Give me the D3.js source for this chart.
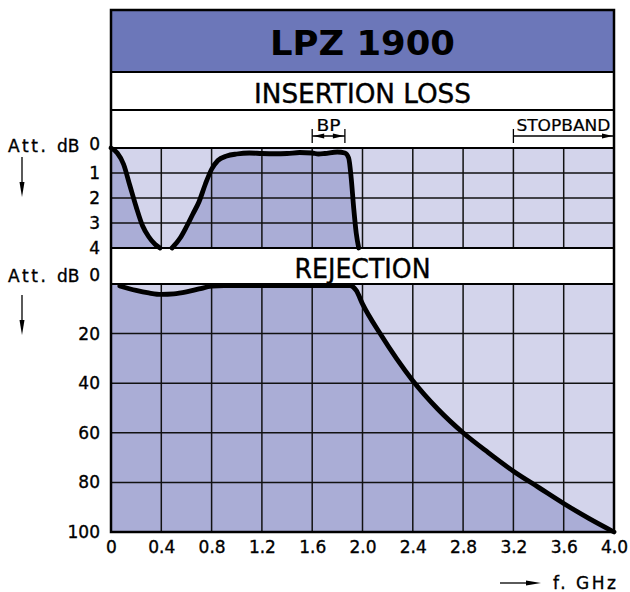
<!DOCTYPE html>
<html><head><meta charset="utf-8">
<script src="https://cdn.jsdelivr.net/npm/d3@7/dist/d3.min.js"></script>
<style>body{margin:0;background:#fff} text{stroke:#000;stroke-width:0.35px}</style>
</head><body><svg id="c" width="630" height="592"></svg>
<script>
// ---- data ----
const titleText = "LPZ 1900";
const panelTitles = ["INSERTION LOSS", "REJECTION"];
const xTicks = [0, 0.4, 0.8, 1.2, 1.6, 2.0, 2.4, 2.8, 3.2, 3.6, 4.0];
const xTickLabels = ["0", "0.4", "0.8", "1.2", "1.6", "2.0", "2.4", "2.8", "3.2", "3.6", "4.0"];
const ilTicks = [0, 1, 2, 3, 4];
const rejTicks = [0, 20, 40, 60, 80, 100];
// insertion loss (dB) — two visible segments (curve leaves the 4 dB window between)
const ilFreqA = [0, 0.05, 0.1, 0.15, 0.2, 0.25, 0.3, 0.35, 0.39];
const ilAttA  = [0, 0.2, 0.65, 1.5, 2.35, 3.1, 3.55, 3.85, 4.0];
const ilFreqB = [0.485, 0.55, 0.6, 0.65, 0.7, 0.75, 0.8, 0.85, 0.92, 1.0, 1.1, 1.2, 1.3, 1.4, 1.5, 1.6, 1.65, 1.7, 1.8, 1.86, 1.89, 1.91, 1.93, 1.95, 1.97];
const ilAttB  = [4.0, 3.6, 3.15, 2.65, 2.15, 1.45, 0.85, 0.5, 0.32, 0.24, 0.2, 0.22, 0.23, 0.22, 0.18, 0.2, 0.24, 0.22, 0.16, 0.2, 0.4, 1.2, 2.4, 3.4, 4.0];
// rejection (dB)
const rejFreq = [0.07, 0.2, 0.3, 0.4, 0.5, 0.6, 0.7, 0.8, 0.9, 1.2, 1.6, 1.9, 1.95, 2.0, 2.14, 2.4, 2.6, 2.8, 3.0, 3.2, 3.4, 3.6, 3.8, 4.0];
const rejAtt  = [0.8, 2.6, 3.6, 4.2, 4.0, 3.2, 2.0, 0.9, 0.6, 0.6, 0.6, 0.6, 2.6, 8.0, 20, 39, 50.5, 60, 68, 75.5, 82, 88.5, 94.5, 100];
const bandpass = [1.6, 1.86];
const stopbandStart = 3.2;

// ---- layout ----
const L = 111, R = 614, TOP = 10, BOT = 532;
const C = {title: "#6c77b9", dark: "#aaadd6", light: "#d3d4eb", ink: "#000"};
const svg = d3.select("#c");
const x = d3.scaleLinear([0, 4], [L, R]);
const yIL = d3.scaleLinear([0, 4], [148, 248]);
const yRej = d3.scaleLinear([0, 100], [284, 532]);
const FONT = "DejaVu Sans, sans-serif";

// bands
svg.append("rect").attr("x", L).attr("y", TOP).attr("width", R - L).attr("height", 72 - TOP).attr("fill", C.title);
svg.append("rect").attr("x", L).attr("y", 72).attr("width", R - L).attr("height", 76).attr("fill", "#fff");
svg.append("rect").attr("x", L).attr("y", 248).attr("width", R - L).attr("height", 36).attr("fill", "#fff");

// plot backgrounds
svg.append("rect").attr("x", L).attr("y", yIL(0)).attr("width", R - L).attr("height", yIL(4) - yIL(0)).attr("fill", C.light);
svg.append("rect").attr("x", L).attr("y", yRej(0)).attr("width", R - L).attr("height", yRej(100) - yRej(0)).attr("fill", C.light);

const defs = svg.append("defs");
defs.append("clipPath").attr("id", "clipIL").append("rect").attr("x", L).attr("y", yIL(0)).attr("width", R - L).attr("height", yIL(4) - yIL(0));
defs.append("clipPath").attr("id", "clipRej").append("rect").attr("x", L).attr("y", yRej(0)).attr("width", R - L).attr("height", yRej(100) - yRej(0));

const segA = ilFreqA.map((f, i) => [f, ilAttA[i]]);
const segB = ilFreqB.map((f, i) => [f, ilAttB[i]]);
const rej = rejFreq.map((f, i) => [f, rejAtt[i]]);

const areaIL = d3.area().x(d => x(d[0])).y0(yIL(4)).y1(d => yIL(d[1])).curve(d3.curveMonotoneX);
const lineIL = d3.line().x(d => x(d[0])).y(d => yIL(d[1])).curve(d3.curveMonotoneX);
const areaRej = d3.area().x(d => x(d[0])).y0(yRej(100)).y1(d => yRej(d[1])).curve(d3.curveMonotoneX);
const lineRej = d3.line().x(d => x(d[0])).y(d => yRej(d[1])).curve(d3.curveMonotoneX);

const gIL = svg.append("g").attr("clip-path", "url(#clipIL)");
[segA, segB].forEach(s => gIL.append("path").attr("d", areaIL(s)).attr("fill", C.dark));
const gRej = svg.append("g").attr("clip-path", "url(#clipRej)");
gRej.append("path").attr("d", areaRej([[0, 0]].concat(rej))).attr("fill", C.dark);

// grid
const grid = svg.append("g").attr("stroke", "#111").attr("stroke-width", 1.5);
xTicks.slice(1, -1).forEach(t => {
  grid.append("line").attr("x1", x(t)).attr("x2", x(t)).attr("y1", yIL(0)).attr("y2", yIL(4));
  grid.append("line").attr("x1", x(t)).attr("x2", x(t)).attr("y1", yRej(0)).attr("y2", yRej(100));
});
ilTicks.slice(1, -1).forEach(t => grid.append("line").attr("x1", L).attr("x2", R).attr("y1", yIL(t)).attr("y2", yIL(t)));
rejTicks.slice(1, -1).forEach(t => grid.append("line").attr("x1", L).attr("x2", R).attr("y1", yRej(t)).attr("y2", yRej(t)));

// curves
[segA, segB].forEach(s => svg.append("path").attr("d", lineIL(s)).attr("fill", "none").attr("stroke", C.ink).attr("stroke-width", 4.8).attr("stroke-linecap", "round").attr("stroke-linejoin", "round"));
svg.append("path").attr("d", lineRej(rej)).attr("fill", "none").attr("stroke", C.ink).attr("stroke-width", 4.8).attr("stroke-linecap", "round").attr("stroke-linejoin", "round");

// separators and frame
const sep = svg.append("g").attr("stroke", C.ink).attr("stroke-width", 2.2);
[72, 110, 148, 248, 284].forEach(y => sep.append("line").attr("x1", L).attr("x2", R).attr("y1", y).attr("y2", y));
svg.append("rect").attr("x", L).attr("y", TOP).attr("width", R - L).attr("height", BOT - TOP).attr("fill", "none").attr("stroke", C.ink).attr("stroke-width", 2.5);

// band texts
const mid = (L + R) / 2;
svg.append("text").attr("x", mid).attr("y", 55).attr("text-anchor", "middle").attr("font-family", FONT).attr("font-weight", "bold").attr("font-stretch", "condensed").attr("font-size", 33).attr("textLength", 185).attr("lengthAdjust", "spacingAndGlyphs").style("stroke-width", 0).text(titleText);
svg.append("text").attr("x", mid).attr("y", 103).attr("text-anchor", "middle").attr("font-family", FONT).attr("font-stretch", "condensed").attr("font-size", 26).attr("textLength", 217).attr("lengthAdjust", "spacingAndGlyphs").text(panelTitles[0]);
svg.append("text").attr("x", mid).attr("y", 278).attr("text-anchor", "middle").attr("font-family", FONT).attr("font-stretch", "condensed").attr("font-size", 26).attr("textLength", 136).attr("lengthAdjust", "spacingAndGlyphs").text(panelTitles[1]);

// BP / STOPBAND dimension marks
const ann = svg.append("g").attr("stroke", C.ink).attr("stroke-width", 1.3);
const yb = 136;
function arrowHead(xTip, dir) {
  svg.append("path").attr("d", d3.line()([[xTip, yb], [xTip - dir * 11, yb - 2.5], [xTip - dir * 11, yb + 2.5]])).attr("fill", C.ink);
}
bandpass.forEach(b => ann.append("line").attr("x1", x(b)).attr("x2", x(b)).attr("y1", 129).attr("y2", 143));
ann.append("line").attr("x1", x(bandpass[0])).attr("x2", x(bandpass[1])).attr("y1", yb).attr("y2", yb);
arrowHead(x(bandpass[0]) + 1, -1); arrowHead(x(bandpass[1]) - 1, 1);
svg.append("text").attr("x", (x(bandpass[0]) + x(bandpass[1])) / 2).attr("y", 131).attr("text-anchor", "middle").attr("font-family", FONT).attr("font-stretch", "condensed").attr("font-size", 16).attr("textLength", 24).attr("lengthAdjust", "spacingAndGlyphs").style("stroke-width", 0.2).text("BP");
ann.append("line").attr("x1", x(stopbandStart)).attr("x2", x(stopbandStart)).attr("y1", 129).attr("y2", 143);
ann.append("line").attr("x1", x(stopbandStart)).attr("x2", R).attr("y1", yb).attr("y2", yb);
arrowHead(R - 1, 1);
svg.append("text").attr("x", x(stopbandStart) + 3).attr("y", 131).attr("font-family", FONT).attr("font-stretch", "condensed").attr("font-size", 16).attr("textLength", 94).attr("lengthAdjust", "spacingAndGlyphs").style("stroke-width", 0.2).text("STOPBAND");

// axes
const axX = d3.axisBottom(x).tickValues(xTicks).tickSize(0).tickPadding(0).tickFormat((d, i) => xTickLabels[i]);
const gx = svg.append("g").attr("transform", `translate(0,${BOT + 9})`).call(axX);
const axIL = d3.axisLeft(yIL).tickValues(ilTicks).tickSize(0).tickPadding(0).tickFormat(d3.format("d"));
const gyIL = svg.append("g").attr("transform", "translate(100,0)").call(axIL);
const axRej = d3.axisLeft(yRej).tickValues(rejTicks).tickSize(0).tickPadding(0).tickFormat(d3.format("d"));
const gyRej = svg.append("g").attr("transform", "translate(100,0)").call(axRej);
[gx, gyIL, gyRej].forEach(g => {
  g.select(".domain").remove();
  g.selectAll("text").attr("font-family", FONT).attr("font-size", 17).attr("fill", C.ink);
});
gyIL.selectAll(".tick").filter(d => d === 0).select("text").attr("dy", "0.1em");
gyRej.selectAll(".tick").filter(d => d === 0).select("text").attr("dy", "-0.2em");

// Att. dB labels + down arrows
function attLabel(y) {
  svg.append("text").attr("x", 8).attr("y", y).attr("font-family", FONT).attr("font-size", 17).attr("textLength", 38).attr("lengthAdjust", "spacing").text("Att.");
  svg.append("text").attr("x", 57).attr("y", y).attr("font-family", FONT).attr("font-size", 17).text("dB");
}
attLabel(152);
attLabel(282);
function vArrow(xa, y1, y2) {
  svg.append("line").attr("x1", xa).attr("x2", xa).attr("y1", y1).attr("y2", y2 - 10).attr("stroke", C.ink).attr("stroke-width", 1.3);
  svg.append("path").attr("d", d3.line()([[xa, y2], [xa - 2.5, y2 - 15], [xa + 2.5, y2 - 15]])).attr("fill", C.ink);
}
vArrow(22, 157, 197);
vArrow(22, 295, 335);
// f. GHz
svg.append("line").attr("x1", 500).attr("x2", 530).attr("y1", 583).attr("y2", 583).attr("stroke", C.ink).attr("stroke-width", 1.3);
svg.append("path").attr("d", d3.line()([[541, 583], [526, 580.5], [526, 585.5]])).attr("fill", C.ink);
svg.append("text").attr("x", 553).attr("y", 589).attr("font-family", FONT).attr("font-size", 17).attr("textLength", 63).attr("lengthAdjust", "spacing").text("f. GHz");
</script></body></html>
